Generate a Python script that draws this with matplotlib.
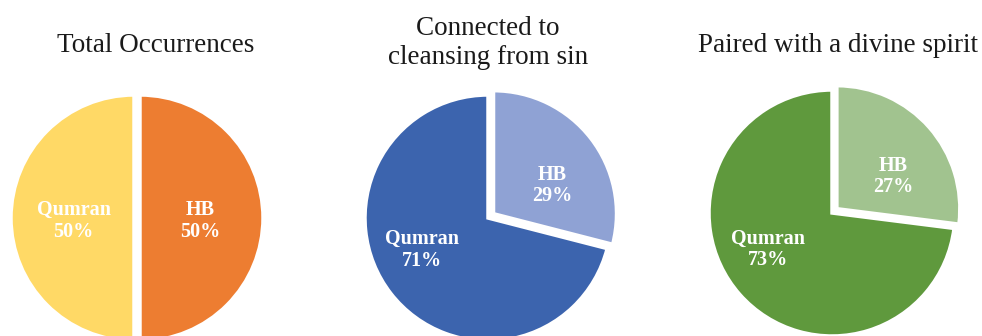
import matplotlib
matplotlib.use("Agg")
import matplotlib.pyplot as plt
import numpy as np

titles = ["Total Occurrences", "Connected to\ncleansing from sin", "Paired with a divine spirit"]
categories = ["HB", "Qumran"]
hb_values = [50, 29, 27]
qumran_values = [50, 71, 73]
hb_colors = ["#ED7D31", "#8FA2D4", "#A1C38F"]
qumran_colors = ["#FFD966", "#3C64AE", "#5F993D"]

W, H = 982, 336
fig = plt.figure(figsize=(W / 100, H / 100), dpi=100)
ax = fig.add_axes([0, 0, 1, 1])

centers = [(137, 118), (488, 118), (832, 123)]
radius = 123
explodes = [(3, 3), (7, 0), (6.5, 0)]
title_pos = [(156, 291), (488, 293), (838, 291)]

serif = ["Liberation Serif", "DejaVu Serif"]

for i in range(3):
    vals = [hb_values[i], qumran_values[i]]
    cols = [hb_colors[i], qumran_colors[i]]
    wedges, _ = ax.pie(vals, colors=cols, startangle=90, counterclock=False,
                       center=centers[i], radius=radius, explode=explodes[i],
                       wedgeprops=dict(edgecolor="white", linewidth=2.5),
                       frame=True)
    total = sum(vals)
    for w, name, v in zip(wedges, categories, vals):
        mid = np.deg2rad((w.theta1 + w.theta2) / 2)
        cx, cy = w.center
        if i == 0:
            d = 0.49
        else:
            mid -= np.deg2rad(12)
            d = 0.53 if name == "HB" else 0.6
        x = cx + d * radius * np.cos(mid)
        y = cy + d * radius * np.sin(mid) - (3 if i == 0 else 0)
        ax.text(x, y, f"{name}\n{round(100 * v / total)}%", ha="center", va="center",
                color="white", fontsize=14.5, fontweight="bold", family=serif,
                linespacing=1.1)
    ax.text(title_pos[i][0], title_pos[i][1], titles[i], ha="center", va="center",
            fontsize=19.5, family=serif, color="#1a1a1a", linespacing=1.2)

ax.set_xlim(0, W)
ax.set_ylim(0, H)
ax.set_aspect("equal")
ax.axis("off")
fig.savefig("out.png", dpi=100)
